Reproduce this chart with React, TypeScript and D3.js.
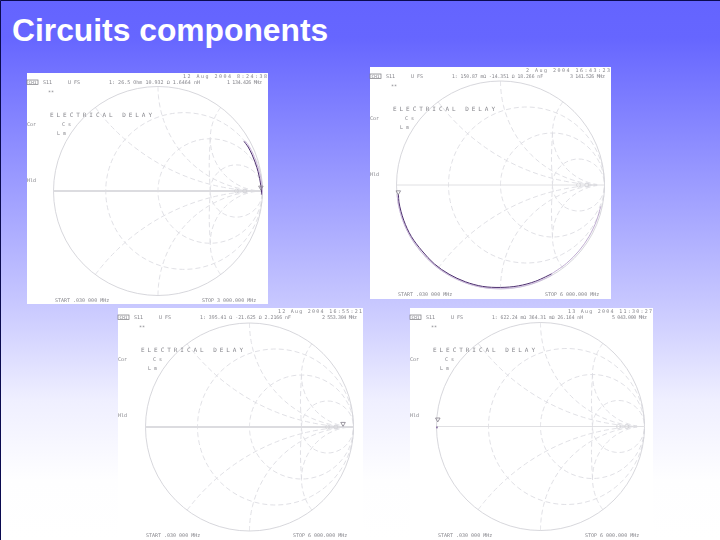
import React, { useEffect } from 'react';
import * as d3 from 'd3';

const title = 'Circuits components';

// Constant resistance / reactance circles printed on the analyser screen
const resistanceCircles = [1 / 3, 1, 3];
const reactanceArcs = [0.5, 1, 2];
const nearVerticalArc = [[0.5, 0.5], [0.49, 0.25], [0.5, 0]];
const openCircles = [0.75, 0.83];

const dates = ['12 Aug 2004   8:24:38', '2 Aug 2004  16:43:23', '12 Aug 2004  16:55:21', '13 Aug 2004  11:30:27'];
const readouts = ['1: 26.5 Ohm  10.932 \u03a9  1.6464 nH', '1: 150.87 m\u03a9  -14.351 \u03a9  18.266 nF', '1: 395.41 \u03a9  -21.625 \u03a9  2.2166 nF', '1: 622.24 m\u03a9  364.31 m\u03a9  26.164 nH'];
const markerFreqs = ['1 134.426 MHz', '3 141.526 MHz', '2 553.304 MHz', '5 043.000 MHz'];
const stopFreqs = ['3 000.000 MHz', '6 000.000 MHz', '6 000.000 MHz', '6 000.000 MHz'];
const startFreq = 'START   .030 000 MHz';

// Measured S11 traces: angle in degrees and reflection magnitude
const traceAngles = [
  [30, 26, 21, 16, 11, 7, 3, 0, -2],
  [-175, -170, -160, -150, -140, -130, -120, -110, -100, -90, -80, -70, -60],
  [],
  [-179, -180],
];
const traceMags = [
  [0.95, 0.96, 0.965, 0.97, 0.975, 0.98, 0.985, 0.99, 0.99],
  [0.985, 0.99, 0.99, 0.99, 0.985, 0.99, 0.99, 0.99, 0.99, 0.985, 0.985, 0.985, 0.985],
  [],
  [0.995, 0.995],
];
const fadedAngles = [
  [],
  [-60, -50, -40, -30, -20, -12],
  [],
  [],
];
const fadedMags = [
  [],
  [0.985, 0.985, 0.985, 0.985, 0.985, 0.985],
  [],
  [],
];
// Marker 1 location on each trace
const markerAngles = [2, -176, 2, 176];
const markerMags = [0.985, 0.985, 0.9, 0.99];

const panels = [
  { x: 27, y: 73, w: 241, h: 231, cx: 158, cy: 191, r: 104.5, thickAxis: true },
  { x: 370, y: 67, w: 241, h: 232, cx: 500.5, cy: 185, r: 104, thickAxis: false },
  { x: 118, y: 308, w: 245, h: 232, cx: 249.5, cy: 427, r: 104, thickAxis: true },
  { x: 410, y: 308, w: 243, h: 232, cx: 540.5, cy: 426.5, r: 104, thickAxis: false },
];

const gridColor = '#dcdce2';
const textColor = '#85858b';
const mono = '"DejaVu Sans Mono", monospace';

const polar = (a: number, m: number): [number, number] => [
  m * Math.cos((a * Math.PI) / 180),
  m * Math.sin((a * Math.PI) / 180),
];

const SmithPanel = ({ index }: { index: number }) => {
  const p = panels[index];
  const gx = d3.scaleLinear().domain([-1, 1]).range([p.cx - p.r, p.cx + p.r]);
  const gy = d3.scaleLinear().domain([-1, 1]).range([p.cy + p.r, p.cy - p.r]);
  const line = d3.line<number[]>().x((d) => gx(d[0])).y((d) => gy(d[1])).curve(d3.curveCatmullRom);

  // normalised impedance to reflection coefficient
  const gamma = (r: number, x: number) => {
    const den = (r + 1) * (r + 1) + x * x;
    return [(r * r + x * x - 1) / den, (2 * x) / den];
  };
  const rSteps = d3.range(0, 60).map((i) => 0.02 * Math.pow(1.13, i) - 0.02);

  const rPaths = resistanceCircles.map((r) =>
    line(d3.range(-60, 61).map((i) => gamma(r, Math.sign(i) * (Math.pow(1.13, Math.abs(i)) - 1) * 0.05)))
  );
  const xPaths = reactanceArcs.flatMap((x) => [
    line(rSteps.map((r) => gamma(r, x))),
    line(rSteps.map((r) => gamma(r, -x))),
  ]);
  const stubPaths = [
    line(nearVerticalArc),
    line(nearVerticalArc.map((d) => [d[0], -d[1]])),
  ];

  const trace = line(traceAngles[index].map((a, i) => polar(a, traceMags[index][i])));
  const faded = line(fadedAngles[index].map((a, i) => polar(a, fadedMags[index][i])));
  const outerTrace = line(traceAngles[index].map((a, i) => polar(a, Math.min(1, traceMags[index][i] + 0.012))));
  const [mx, my] = polar(markerAngles[index], markerMags[index]);

  const t = (dx: number, dy: number, s: string, extra: any = {}) => (
    <text x={p.x + dx} y={p.y + dy} fontFamily={mono} fontSize={5} fill={textColor} {...extra}>{s}</text>
  );

  return (
    <g>
      <rect x={p.x} y={p.y} width={p.w} height={p.h} fill="#ffffff" />
      <g filter="url(#soft)">
        <g fill="none" stroke={gridColor} strokeWidth={0.9} strokeDasharray="5 3">
          {rPaths.map((d, i) => <path key={i} d={d || ''} />)}
          {xPaths.map((d, i) => <path key={i} d={d || ''} />)}
          {stubPaths.map((d, i) => <path key={i} d={d || ''} />)}
        </g>
        <circle cx={p.cx} cy={p.cy} r={p.r} fill="none" stroke="#d2d2d8" strokeWidth={0.9} />
        <line x1={gx(-1)} x2={gx(1)} y1={gy(0)} y2={gy(0)} stroke="#dcdce0" strokeWidth={p.thickAxis ? 2 : 0.9} />
        {openCircles.map((v) => (
          <circle key={v} cx={gx(v)} cy={gy(0)} r={2} fill="none" stroke="#d0d0d4" strokeWidth={0.7} />
        ))}
        <path d={outerTrace || ''} fill="none" stroke="#c9b4dc" strokeWidth={0.9} />
        <path d={faded || ''} fill="none" stroke="#b9a4cc" strokeWidth={0.9} />
        <path d={trace || ''} fill="none" stroke="#4d2f6f" strokeWidth={1} />
        <path
          d={d3.symbol(d3.symbolTriangle, 9)() || ''}
          transform={`translate(${gx(mx)},${gy(my)}) rotate(180)`}
          fill="none"
          stroke="#85808c"
          strokeWidth={0.8}
        />
        {t(p.w - 1, 5, dates[index], { textAnchor: 'end', textLength: 84 })}
        <rect x={p.x} y={p.y + 7} width={11} height={4.5} fill="none" stroke="#77777c" strokeWidth={0.7} />
        {t(1.5, 11, 'CH1', { fontSize: 4.4 })}
        {t(16, 11, 'S11')}
        {t(41, 11, 'U FS')}
        {t(82, 11, readouts[index], { textLength: 91, lengthAdjust: 'spacingAndGlyphs' })}
        {t(p.w - 41, 11, markerFreqs[index], { textLength: 35 })}
        {t(21, 21, '**')}
        {t(23, 44, 'ELECTRICAL DELAY', { fontSize: 6, textLength: 102 })}
        {t(0, 53, 'Cor')}
        {t(35, 53, 'C  s')}
        {t(30, 62, 'L m')}
        {t(0, 109, 'Hld')}
        {t(28, 229, startFreq)}
        {t(175, 229, 'STOP  ' + stopFreqs[index])}
      </g>
    </g>
  );
};

const App = () => {
  useEffect(() => {
    document.body.style.margin = '0';
  }, []);

  return (
    <svg width={720} height={540} style={{ position: 'absolute', left: 0, top: 0, display: 'block' }}>
      <defs>
        <linearGradient id="bg" x1="0" y1="0" x2="0" y2="1">
          <stop offset="0" stopColor="#6464ff" />
          <stop offset="0.07" stopColor="#6666ff" />
          <stop offset="0.555" stopColor="#c6c6ff" />
          <stop offset="0.74" stopColor="#efefff" />
          <stop offset="0.89" stopColor="#fefeff" />
          <stop offset="1" stopColor="#ffffff" />
        </linearGradient>
        <filter id="soft" x="-5%" y="-5%" width="110%" height="110%">
          <feGaussianBlur stdDeviation="0.4" />
        </filter>
      </defs>
      <rect width={720} height={540} fill="url(#bg)" />
      <path d="M0.5,540 V0.5 H720" fill="none" stroke="#0a0a50" strokeWidth={1} />
      <text x={12} y={41} fontFamily='"Liberation Sans", Arial, sans-serif' fontWeight="bold" fontSize={31.8} fill="#ffffff">
        {title}
      </text>
      {panels.map((_, i) => <SmithPanel key={i} index={i} />)}
    </svg>
  );
};

export default App;
